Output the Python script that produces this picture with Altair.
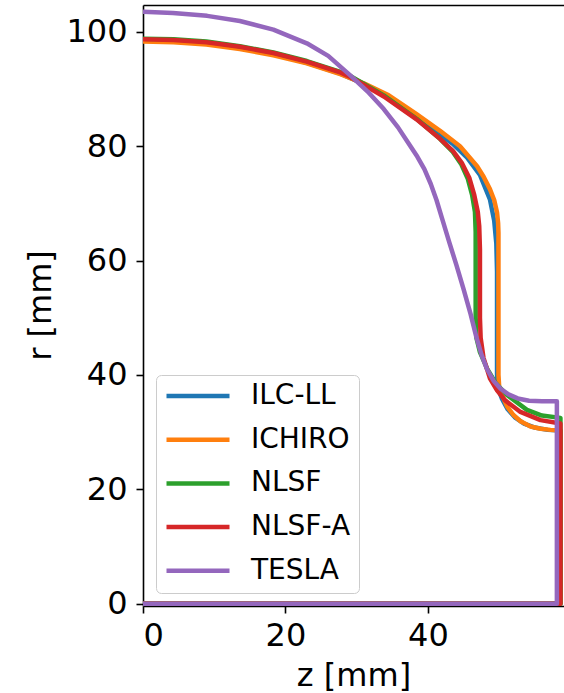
import altair as alt
import pandas as pd

series = ["ILC-LL", "ICHIRO", "NLSF", "NLSF-A", "TESLA"]
colors = ["#1f77b4", "#ff7f0e", "#2ca02c", "#d62728", "#9467bd"]
x_ticks = [0, 20, 40]
y_ticks = [0, 20, 40, 60, 80, 100]

ilc_z = [0, 4.3, 8.9, 13.6, 18.3, 23.0, 27.7, 31.0, 34.5, 38.0, 41.0, 43.5, 45.5, 47.3, 48.7, 49.3, 49.6, 49.7, 49.7,
         49.9, 50.4, 51.2, 52.2, 53.5, 55.0, 56.8, 58.6, 58.6, 0]
ilc_r = [98.6, 98.4, 98.0, 97.2, 96.1, 94.6, 92.7, 90.9, 88.5, 85.5, 82.7, 80.4, 78.0, 75.0, 70.7, 67.0, 63.0, 58.0, 40.0,
         37.5, 35.8, 34.0, 32.6, 31.5, 30.8, 30.4, 30.3, 0, 0]

ichiro_z = [0, 4.3, 8.9, 13.6, 18.3, 23.0, 27.7, 31.0, 34.5, 38.4, 41.7, 44.5, 46.9, 47.8, 48.7, 49.3, 49.7, 49.85,
            49.9, 49.9, 50.0, 50.4, 51.1, 52.0, 53.0, 54.4, 55.8, 57.2, 58.6, 58.6, 0]
ichiro_r = [98.3, 98.2, 97.8, 97.0, 95.9, 94.5, 92.6, 91.0, 88.9, 85.6, 82.7, 80.0, 76.5, 74.7, 72.5, 70.6, 68.4, 66.6,
            64.9, 40.0, 38.0, 36.5, 34.5, 33.0, 31.9, 31.0, 30.6, 30.4, 30.3, 0, 0]

nlsf_z = [0, 4.3, 8.9, 13.6, 18.3, 23.0, 27.7, 29.1, 33.8, 38.4, 41.7, 43.5, 44.7, 45.6, 46.2, 46.6, 46.7, 46.7,
          46.8, 47.3, 48.3, 49.5, 51.1, 53.9, 56.0, 58.6, 58.6, 0]
nlsf_r = [98.8, 98.7, 98.3, 97.5, 96.4, 94.9, 93.0, 92.3, 88.9, 84.8, 81.3, 79.0, 76.8, 74.3, 71.5, 68.5, 65.0, 50.0,
          46.5, 44.0, 41.1, 38.6, 36.5, 33.9, 32.9, 32.5, 0, 0]

nlsfa_z = [0, 4.3, 8.9, 13.6, 18.3, 23.0, 27.7, 29.1, 33.8, 38.4, 41.7, 43.5, 44.8, 45.8, 46.5, 47.0, 47.2, 47.3, 47.3,
           47.4, 47.8, 48.7, 49.7, 50.8, 52.9, 55.8, 58.6, 58.6, 0]
nlsfa_r = [98.7, 98.6, 98.2, 97.4, 96.3, 94.8, 92.9, 92.1, 88.7, 84.7, 81.3, 79.2, 77.0, 74.5, 71.5, 68.5, 66.0, 62.0, 50.0,
           46.5, 43.0, 39.4, 37.3, 35.6, 33.6, 32.1, 31.5, 0, 0]

tesla_z = [0, 4.2, 9.0, 13.6, 18.3, 23.0, 26.0, 29.1, 31.5, 33.8, 35.8, 37.5, 38.5, 39.5, 40.4, 41.2, 42.0, 43.0, 44.0,
           45.0, 46.0, 46.8, 47.5, 48.3, 49.2, 50.2, 51.3, 52.6, 54.2, 56.0, 58.1, 58.1, 0]
tesla_r = [103.5, 103.3, 102.8, 101.9, 100.4, 98.0, 95.8, 92.4, 89.6, 86.5, 83.3, 80.1, 78.2, 76.0, 73.4, 70.6, 67.3, 63.2,
           59.2, 55.0, 50.6, 46.6, 43.6, 41.0, 39.0, 37.6, 36.6, 35.9, 35.5, 35.4, 35.4, 0, 0]

rows = []
for name, zs, rs in [("ILC-LL", ilc_z, ilc_r), ("ICHIRO", ichiro_z, ichiro_r), ("NLSF", nlsf_z, nlsf_r),
                     ("NLSF-A", nlsfa_z, nlsfa_r), ("TESLA", tesla_z, tesla_r)]:
    for i, (z, r) in enumerate(zip(zs, rs)):
        rows.append({"series": name, "z": z, "r": r, "i": i})
df = pd.DataFrame(rows)

FONT = "DejaVu Sans"
xscale = alt.Scale(domain=[0, 59.1], nice=False, zero=False)
yscale = alt.Scale(domain=[-0.4, 104.7], nice=False, zero=False)

lines = alt.Chart(df).mark_line(strokeWidth=4.5, strokeJoin="round", clip=True).encode(
    x=alt.X("z:Q", scale=xscale,
            axis=alt.Axis(values=x_ticks, title="z [mm]", titleX=210.5, titleY=79,
                          titleBaseline="alphabetic", titleAlign="center", labelPadding=7)),
    y=alt.Y("r:Q", scale=yscale,
            axis=alt.Axis(values=y_ticks, title="r [mm]", titleX=-93, titleY=300, titleAngle=-90,
                          titleBaseline="alphabetic", titleAlign="center", labelPadding=9)),
    color=alt.Color("series:N", scale=alt.Scale(domain=series, range=colors),
                    legend=alt.Legend(title=None, orient="none", legendX=13, legendY=370,
                                      symbolType="stroke", symbolSize=3969, symbolStrokeWidth=4.5,
                                      clipHeight=26, rowPadding=15.7, labelFontSize=28, labelOffset=19,
                                      padding=8, strokeColor="#cccccc", fillColor="rgba(255,255,255,0.8)",
                                      cornerRadius=5, labelFont=FONT, labelColor="black", symbolOpacity=1)),
    order="i:Q",
)

top = alt.Chart(df).mark_point(opacity=0).encode(
    x=alt.X("z:Q", scale=xscale,
            axis=alt.Axis(orient="top", labels=False, ticks=False, title=None, domainColor="black",
                          domainWidth=1.6)),
    y=alt.Y("r:Q", scale=yscale, axis=None),
)

chart = alt.layer(lines, top).resolve_axis(x="independent", y="independent").properties(
    width=421, height=601,
    autosize=alt.AutoSizeParams(type="none"),
    padding={"left": 143, "top": 5, "right": 0, "bottom": 87},
    background="white",
).configure_view(stroke=None).configure_axis(
    labelFont=FONT, titleFont=FONT, labelFontSize=32, titleFontSize=32, titleFontWeight="normal",
    labelColor="black", titleColor="black", domainColor="black", tickColor="black",
    domainWidth=1.6, tickWidth=1.6, tickSize=7, grid=False,
)

chart.save("out.html", embed_options={"renderer": "svg", "actions": False})
